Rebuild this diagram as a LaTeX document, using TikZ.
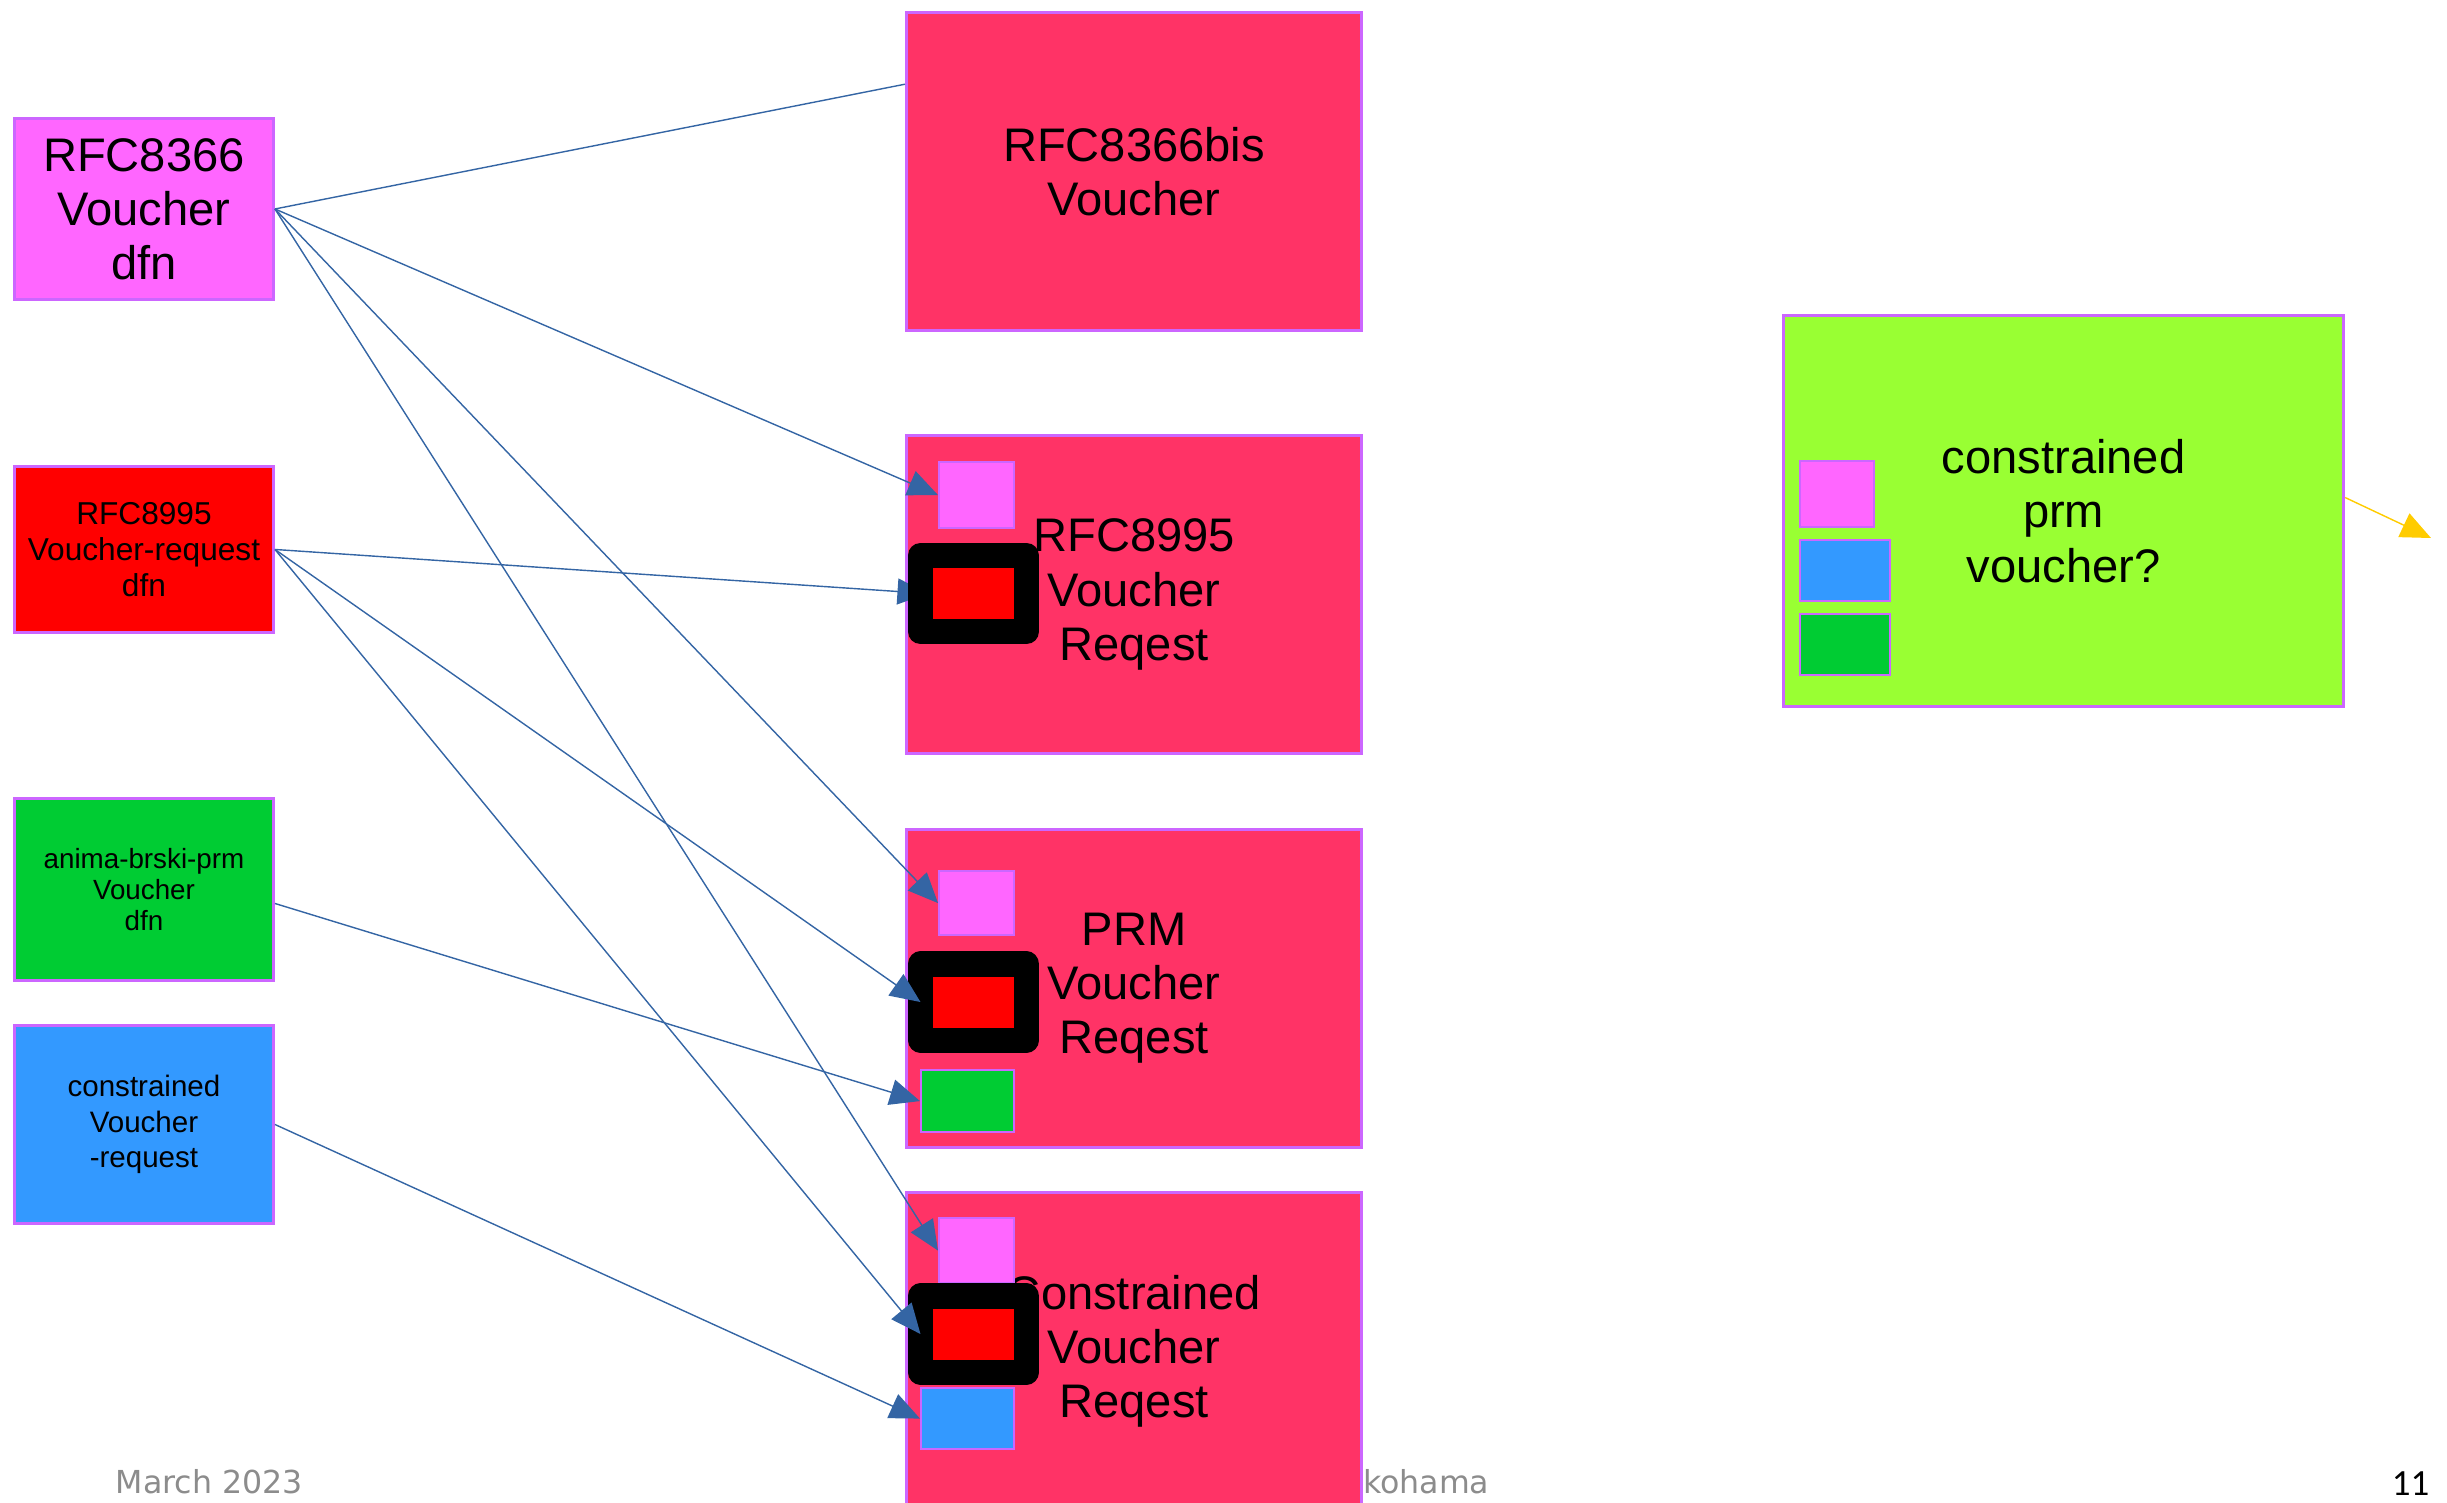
\documentclass[tikz,border=0pt]{standalone}
\usepackage{fontspec}
\setmainfont{Liberation Sans}
\newfontfamily\footfont{DejaVu Sans}
\newfontfamily\numfont{Carlito}
\usetikzlibrary{arrows.meta,positioning,calc}
\definecolor{edgeviolet}{RGB}{204,102,255}
\definecolor{dfnpink}{RGB}{255,102,255}
\definecolor{reqpink}{RGB}{255,51,102}
\definecolor{dfngreen}{RGB}{0,204,51}
\definecolor{dfnblue}{RGB}{51,153,255}
\definecolor{cprmgreen}{RGB}{153,255,51}
\definecolor{linkblue}{RGB}{52,101,164}
\definecolor{outyellow}{RGB}{255,204,0}
\definecolor{footgray}{RGB}{140,140,140}
\newcommand\bigtxt{\fontsize{13.4}{15.4}\selectfont}
\pgfdeclarelayer{front}
\pgfsetlayers{main,front}
\tikzset{
  mydfn/.style = {rectangle, draw=edgeviolet, line width=0.8pt, align=center, inner sep=0pt, minimum width=2.59cm, anchor=north west},
  myreq/.style = {rectangle, draw=edgeviolet, fill=reqpink, line width=0.8pt, align=center, minimum width=4.55cm, minimum height=3.18cm, anchor=north west, font=\bigtxt},
  mychip/.style = {rectangle, draw=edgeviolet, line width=0.6pt, inner sep=0pt, anchor=north west},
  myholder/.style = {rectangle, draw=black, fill=red, line width=0.25cm, line join=round, inner sep=0pt, outer sep=0pt, minimum width=1.06cm, minimum height=0.76cm},
  mylink/.style = {-{Triangle[length=3mm, width=2.6mm]}, draw=linkblue, line width=0.4pt},
  myout/.style = {-{Triangle[length=3mm, width=2.6mm]}, draw=outyellow, line width=0.4pt},
  myfoot/.style = {font=\footfont\fontsize{9}{11}\selectfont, text=footgray, inner sep=0pt},
}

\begin{document}
\begin{tikzpicture}[x=0.01cm, y=-0.01cm]
\useasboundingbox (0,0) rectangle (2447,1502);
\clip (0,0) rectangle (2447,1502);

% footer
\node (month) [myfoot, anchor=base west] at (115,1493) {March 2023};
\node (place) [myfoot, anchor=base east] at (1490,1493) {Yokohama};
\node (page) [font=\numfont\fontsize{10.5}{12}\selectfont, inner sep=0pt, anchor=base east] at (2430,1495) {11};

% definitions
\node (v8366) [mydfn, fill=dfnpink, minimum height=1.81cm, font=\bigtxt] at (13,117) {RFC8366\\Voucher\\dfn};
\node (r8995) [mydfn, fill=red, minimum height=1.66cm, font=\fontsize{9}{10.3}\selectfont] at (13,465) {RFC8995\\Voucher-request\\dfn};
\node (vprm) [mydfn, fill=dfngreen, minimum height=1.82cm, font=\fontsize{7.9}{8.8}\selectfont] at (13,797) {anima-brski-prm\\Voucher\\dfn};
\node (vcon) [mydfn, fill=dfnblue, minimum height=1.98cm, font=\fontsize{8.4}{10}\selectfont] at (13,1024) {constrained\\Voucher\\-request};

% requests
\node (bis) [myreq] at (905,11) {RFC8366bis\\Voucher};
\node (req8995) [myreq] at (905,434) {RFC8995\\Voucher\\Reqest};
\node (reqprm) [myreq] at (905,828) {PRM\\Voucher\\Reqest};
\node (reqcon) [myreq] at (905,1191) {Constrained\\Voucher\\Reqest};
\node (cprm) [myreq, fill=cprmgreen, minimum width=5.6cm, minimum height=3.91cm] at (1782,314) {constrained\\prm\\voucher?};

% parts
\node (p8995) [mychip, fill=dfnpink, minimum width=0.75cm, minimum height=0.66cm] at (938,461) {};
\node (pprm) [mychip, fill=dfnpink, minimum width=0.75cm, minimum height=0.64cm] at (938,870) {};
\node (hprm) [myholder] at (973.5,1002) {};
\node (gprm) [mychip, fill=dfngreen, minimum width=0.93cm, minimum height=0.62cm] at (920,1069) {};
\node (pcon) [mychip, fill=dfnpink, minimum width=0.75cm, minimum height=0.65cm] at (938,1217) {};
\node (hcon) [myholder] at (973.5,1334) {};
\node (bcon) [mychip, fill=dfnblue, minimum width=0.93cm, minimum height=0.61cm] at (920,1387) {};
\node (pq) [mychip, fill=dfnpink, minimum width=0.74cm, minimum height=0.66cm] at (1799,460) {};
\node (bq) [mychip, fill=dfnblue, minimum width=0.9cm, minimum height=0.61cm, below=0.11cm of pq.south west, anchor=north west] {};
\node (gq) [mychip, fill=dfngreen, minimum width=0.9cm, minimum height=0.61cm, below=0.11cm of bq.south west, anchor=north west] {};
\begin{pgfonlayer}{front}
\node (h8995) [myholder] at (973.5,593.5) {};
\end{pgfonlayer}

\draw[linkblue, line width=0.4pt] (v8366.east) -- ($(bis.north west)!0.228!(bis.south west)$);
\draw[mylink] (r8995.east) -- ($(h8995.west)+(7,0)$);
\draw[mylink] ($(vprm.east)+(0,14)$) -- (gprm.west);
\foreach \u/\v in {v8366/p8995,v8366/pprm,v8366/pcon,r8995/hprm,r8995/hcon,vcon/bcon}{
  \draw[mylink] (\u.east) -- (\v.west);
}

\coordinate (drift) at (2431,538);
\draw[myout] ($(cprm.east)+(0,-13.5)$) -- (drift);
\end{tikzpicture}
\end{document}
